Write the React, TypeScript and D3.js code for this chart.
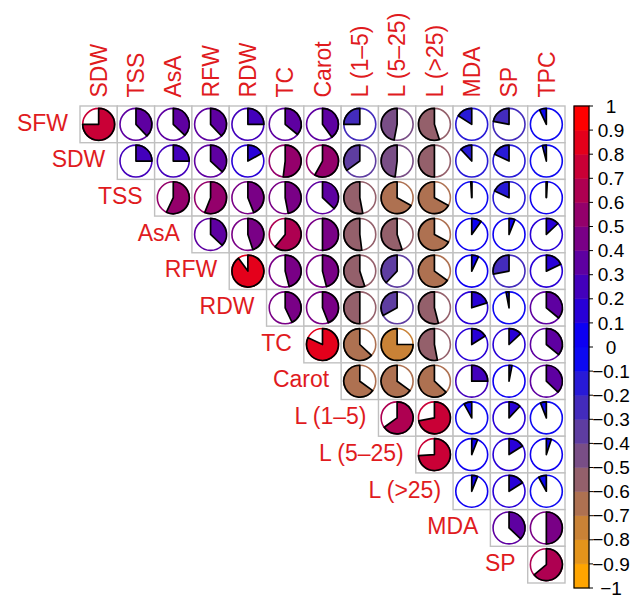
import React from "react";
import * as d3 from "d3";

// ---------- data ----------
const variables = [
  "SFW", "SDW", "TSS", "AsA", "RFW", "RDW", "TC", "Carot",
  "L (1–5)", "L (5–25)", "L (>25)", "MDA", "SP", "TPC",
];
const rowVars = variables.slice(0, 13);
const colVars = variables.slice(1);

// upper-triangle correlations, one array per row (vs. following variables)
const corrSFW = [0.75, 0.38, 0.37, 0.38, 0.25, 0.36, 0.4, -0.25, -0.47, -0.55, -0.16, -0.22, -0.07];
const corrSDW = [0.25, 0.25, 0.37, 0.17, 0.52, 0.58, -0.35, -0.48, -0.5, -0.12, -0.18, -0.04];
const corrTSS = [0.57, 0.56, 0.44, 0.47, 0.37, -0.53, -0.67, -0.67, -0.01, -0.18, 0.01];
const corrAsA = [0.37, 0.45, 0.61, 0.5, -0.52, -0.55, -0.67, 0.1, 0.06, 0.13];
const corrRFW = [0.9, 0.46, 0.46, -0.55, -0.38, -0.65, 0.07, -0.28, 0.18];
const corrRDW = [0.43, 0.44, -0.5, -0.33, -0.54, 0.2, -0.03, 0.36];
const corrTC = [0.82, -0.63, -0.75, -0.53, 0.16, 0.13, 0.36];
const corrCarot = [-0.65, -0.65, -0.63, 0.25, 0.03, 0.37];
const corrL1 = [0.65, 0.72, -0.08, 0.12, -0.06];
const corrL2 = [0.74, 0.06, 0.16, 0.05];
const corrL3 = [0.06, 0.16, -0.08];
const corrMDA = [0.37, 0.5];
const corrSP = [0.64];
const corrRows = [
  corrSFW, corrSDW, corrTSS, corrAsA, corrRFW, corrRDW, corrTC,
  corrCarot, corrL1, corrL2, corrL3, corrMDA, corrSP,
];

const legendTicks = [1, 0.9, 0.8, 0.7, 0.6, 0.5, 0.4, 0.3, 0.2, 0.1, 0, -0.1, -0.2, -0.3, -0.4, -0.5, -0.6, -0.7, -0.8, -0.9, -1];
const paletteAnchors = ["orange", "blue", "red"];
const nColors = 20;

// ---------- styling / layout ----------
const W = 635;
const H = 602;
const FONT = "'Liberation Sans', Arial, Helvetica, sans-serif";
const LABEL_COLOR = "#E01B1E";
const gridLeft = 80;
const gridRight = 565;
const gridTop = 106;
const gridBottom = 583;
const legX0 = 574;
const legX1 = 589;
const legTop = 106;
const legBottom = 588;

const interp = d3.piecewise(d3.interpolateRgb, paletteAnchors);
const palette = d3.range(nColors).map((i) => d3.color(interp(i / (nColors - 1)))!.formatHex());
const colorOf = (v: number) => {
  let idx = Math.ceil(((v + 1) / 2) * nColors) - 1;
  idx = Math.max(0, Math.min(nColors - 1, idx));
  return palette[idx];
};

const fmt = (v: number) => (v < 0 ? "−" + d3.format("")(Math.abs(v)) : d3.format("")(v));

export default function App() {
  const x = d3.scaleBand<string>().domain(colVars).range([gridLeft, gridRight]).padding(0);
  const y = d3.scaleBand<string>().domain(rowVars).range([gridTop, gridBottom]).padding(0);
  const cw = x.bandwidth();
  const ch = y.bandwidth();
  const r = 0.435 * Math.min(cw, ch);
  const arc = d3.arc<any>();
  const ly = d3.scaleLinear().domain([-1, 1]).range([legBottom, legTop]);
  const binEdges = d3.range(nColors + 1).map((i) => -1 + (2 * i) / nColors);

  const cells: React.ReactNode[] = [];
  const pies: React.ReactNode[] = [];
  rowVars.forEach((rv, i) => {
    corrRows[i].forEach((v, k) => {
      const cv = colVars[i + k];
      const x0 = x(cv)!;
      const y0 = y(rv)!;
      cells.push(
        <rect key={`c-${i}-${k}`} x={x0} y={y0} width={cw} height={ch}
          fill="white" stroke="#C0C0C0" strokeWidth={1.4} />
      );
      const cx = x0 + cw / 2;
      const cy = y0 + ch / 2;
      const col = colorOf(v);
      const a = v * 2 * Math.PI;
      const d = arc({
        innerRadius: 0,
        outerRadius: r,
        startAngle: Math.min(0, a),
        endAngle: Math.max(0, a),
      });
      pies.push(
        <g key={`p-${i}-${k}`} transform={`translate(${cx},${cy})`}>
          <circle r={r} fill="white" stroke={col} strokeWidth={1.6} />
          {Math.abs(v) > 0.0001 && (
            <path d={d || ""} fill={col} stroke="black" strokeWidth={1.7} strokeLinejoin="round" />
          )}
          {Math.abs(v) <= 0.02 && (
            <line x1={0} y1={0} x2={0} y2={-r} stroke="black" strokeWidth={1.7} />
          )}
        </g>
      );
    });
  });

  return (
    <div style={{ position: "absolute", left: 0, top: 0 }}>
      <svg width={W} height={H} style={{ display: "block", background: "white" }}>
        {cells}
        {pies}
        {/* row labels */}
        {rowVars.map((rv, i) => (
          <text key={`rl-${rv}`} x={x(colVars[i])! - 12} y={y(rv)! + ch / 2 + 6.3}
            textAnchor="end" fontFamily={FONT} fontSize={23} fill={LABEL_COLOR}>
            {rv}
          </text>
        ))}
        {/* column labels */}
        {colVars.map((cv) => (
          <text key={`cl-${cv}`} transform={`translate(${x(cv)! + cw / 2 + 8.2},${gridTop - 8.5}) rotate(-90)`}
            textAnchor="start" fontFamily={FONT} fontSize={23} fill={LABEL_COLOR}>
            {cv}
          </text>
        ))}
        {/* color legend */}
        {palette.map((c, i) => (
          <rect key={`lg-${i}`} x={legX0} y={ly(binEdges[i + 1])} width={legX1 - legX0}
            height={ly(binEdges[i]) - ly(binEdges[i + 1])} fill={c} stroke={c} strokeWidth={0.5} />
        ))}
        <rect x={legX0} y={legTop} width={legX1 - legX0} height={legBottom - legTop}
          fill="none" stroke="black" strokeWidth={1.2} />
        {legendTicks.map((t) => (
          <g key={`lt-${t}`}>
            <line x1={legX1} x2={legX1 + 4} y1={ly(t)} y2={ly(t)} stroke="black" strokeWidth={1} />
            <text x={611} y={ly(t)} dy="0.35em" textAnchor="middle" fontFamily={FONT}
              fontSize={19} fill="black">
              {fmt(t)}
            </text>
          </g>
        ))}
      </svg>
    </div>
  );
}
